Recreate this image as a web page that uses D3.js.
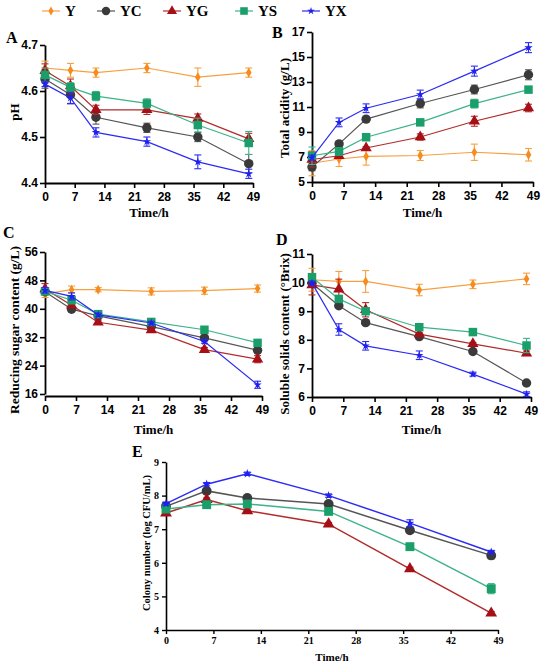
<!DOCTYPE html>
<html>
<head>
<meta charset="utf-8">
<script src="https://cdn.jsdelivr.net/npm/d3@7"></script>
<style>
  body { margin: 0; background: #fff; }
  svg { display: block; }
</style>
</head>
<body>
<div id="chart"></div>
<script>
// ---------------------------------------------------------------
// data (rows follow the series order)

let series = ["Y", "YC", "YG", "YS", "YX"];
let times = [0, 6, 12, 24, 36, 48];
let xTicks = [0, 7, 14, 21, 28, 35, 42, 49];

// A: pH
let phMean = [
  [4.650, 4.645, 4.640, 4.650, 4.630, 4.640],
  [4.626, 4.592, 4.543, 4.520, 4.500, 4.442],
  [4.644, 4.611, 4.559, 4.559, 4.540, 4.496],
  [4.635, 4.608, 4.589, 4.573, 4.526, 4.487],
  [4.615, 4.585, 4.510, 4.490, 4.446, 4.420]
];
let phErr = [
  [0.015, 0.015, 0.010, 0.010, 0.020, 0.010],
  [0.020, 0.020, 0.015, 0.010, 0.010, 0.020],
  [0.015, 0.015, 0.010, 0.010, 0.010, 0.012],
  [0.015, 0.010, 0.010, 0.010, 0.015, 0.025],
  [0.005, 0.012, 0.010, 0.010, 0.015, 0.010]
];
let phTicks = [4.4, 4.5, 4.6, 4.7];

// B: total acidity (g/L)
let acidMean = [
  [6.50, 6.84, 7.05, 7.12, 7.38, 7.18],
  [6.20, 8.05, 10.03, 11.28, 12.40, 13.58],
  [6.80, 7.10, 7.72, 8.60, 9.86, 10.92],
  [7.10, 7.45, 8.58, 9.77, 11.27, 12.39],
  [6.95, 9.77, 10.90, 12.00, 13.87, 15.75]
];
let acidErr = [
  [1.00, 0.60, 0.70, 0.40, 0.65, 0.50],
  [0.30, 0.10, 0.15, 0.35, 0.35, 0.40],
  [0.60, 0.20, 0.10, 0.25, 0.40, 0.30],
  [0.70, 0.30, 0.20, 0.15, 0.35, 0.15],
  [0.20, 0.35, 0.35, 0.35, 0.40, 0.40]
];
let acidTicks = [5, 7, 9, 11, 13, 15, 17];

// C: reducing sugar content (g/L)
let sugarMean = [
  [44.2, 45.4, 45.4, 44.9, 45.1, 45.7],
  [44.8, 39.9, 38.0, 35.0, 31.8, 28.3],
  [45.6, 41.0, 36.2, 34.0, 28.5, 25.8],
  [44.9, 42.4, 38.5, 36.3, 34.1, 30.4],
  [45.2, 43.5, 38.3, 36.0, 30.8, 18.6]
];
let sugarErr = [
  [1.0, 1.0, 0.6, 1.0, 1.0, 1.0],
  [0.6, 0.6, 0.5, 0.5, 0.5, 0.5],
  [1.5, 0.6, 0.6, 0.6, 0.6, 1.0],
  [0.6, 0.6, 0.5, 0.5, 0.5, 0.6],
  [0.8, 1.0, 0.5, 0.5, 0.5, 1.0]
];
let sugarTicks = [16, 24, 32, 40, 48, 56];

// D: soluble solids content (°Brix)
let brixMean = [
  [10.10, 10.04, 10.04, 9.74, 9.94, 10.13],
  [9.98, 9.19, 8.60, 8.11, 7.59, 6.49],
  [9.92, 9.77, 9.05, 8.20, 7.86, 7.53],
  [10.19, 9.43, 9.00, 8.44, 8.27, 7.80],
  [9.98, 8.36, 7.79, 7.46, 6.80, 6.10]
];
let brixErr = [
  [0.40, 0.35, 0.38, 0.20, 0.15, 0.20],
  [0.10, 0.05, 0.05, 0.05, 0.05, 0.05],
  [0.35, 0.35, 0.25, 0.05, 0.05, 0.08],
  [0.12, 0.08, 0.08, 0.08, 0.12, 0.25],
  [0.08, 0.20, 0.15, 0.15, 0.07, 0.08]
];
let brixTicks = [6, 7, 8, 9, 10, 11];

// E: colony number (log CFU/mL), no Y series
let colonySeries = ["YC", "YG", "YS", "YX"];
let colonyMean = [
  [7.68, 8.14, 7.93, 7.75, 6.97, 6.22],
  [7.48, 7.88, 7.55, 7.15, 5.82, 4.50],
  [7.60, 7.73, 7.75, 7.53, 6.48, 5.23],
  [7.76, 8.34, 8.65, 8.00, 7.18, 6.32]
];
let colonyErr = [
  [0.05, 0.05, 0.05, 0.05, 0.05, 0.10],
  [0.05, 0.05, 0.05, 0.05, 0.05, 0.05],
  [0.05, 0.05, 0.05, 0.05, 0.05, 0.15],
  [0.05, 0.05, 0.05, 0.05, 0.10, 0.05]
];
let colonyTicks = [4, 5, 6, 7, 8, 9];

// ---------------------------------------------------------------
// styles

let lineColor = { Y: "#f7a040", YC: "#555555", YG: "#b22a2a", YS: "#3cb389", YX: "#2b2bf5" };
let markColor = { Y: "#f78c1e", YC: "#3a3a3a", YG: "#a50f15", YS: "#1a9e6a", YX: "#1f1ff0" };
let markShape = { Y: d3.symbolDiamond, YC: d3.symbolCircle, YG: d3.symbolTriangle, YS: d3.symbolSquare, YX: d3.symbolStar };
let markSize  = { Y: 28, YC: 70, YG: 55, YS: 72, YX: 22 };

let serif = "'Liberation Serif', 'Times New Roman', serif";
let sans  = "'Liberation Sans', Arial, sans-serif";

let svg = d3.select("#chart").append("svg")
    .attr("width", 550)
    .attr("height", 668);

// ---------------------------------------------------------------
// legend

let legendX = [42, 97, 163, 235, 302];
let legend = svg.append("g");
series.forEach(function(s, i) {
  let g = legend.append("g").attr("transform", "translate(" + legendX[i] + ",11)");
  g.append("line").attr("x1", 0).attr("x2", 18)
    .attr("stroke", lineColor[s]).attr("stroke-width", 1.2);
  g.append("path").attr("transform", "translate(9,0)")
    .attr("d", d3.symbol().type(markShape[s]).size(markSize[s] * 0.8)())
    .attr("fill", markColor[s]);
  g.append("text").attr("x", 23).attr("y", 5)
    .attr("font-family", serif).attr("font-weight", "bold").attr("font-size", 15)
    .text(s);
});

// ---------------------------------------------------------------
// one panel

function drawPanel(p) {
  let x = d3.scaleLinear().domain([0, 49]).range([p.x0, p.x1]);
  let y = d3.scaleLinear().domain(p.domain).range([p.y1, p.y0]);
  let g = svg.append("g");

  // x axis
  let xa = g.append("g")
    .attr("transform", "translate(0," + p.xAxisY + ")")
    .call(d3.axisBottom(x).tickValues(xTicks).tickSize(p.tick).tickSizeOuter(0).tickPadding(p.small ? 3 : 4));
  // y axis
  let ya = g.append("g")
    .attr("transform", "translate(" + p.x0 + ",0)")
    .call(d3.axisLeft(y).tickValues(p.ticks).tickSize(p.tick).tickSizeOuter(0)
      .tickFormat(p.format || d3.format("d")).tickPadding(p.small ? 3 : 2));

  [xa, ya].forEach(function(a) {
    a.select(".domain").attr("stroke", "#000").attr("stroke-width", p.small ? 1.6 : 1.8);
    a.selectAll(".tick line").attr("stroke", "#000").attr("stroke-width", p.small ? 1.4 : 1.6);
    a.selectAll(".tick text")
      .attr("fill", "#000")
      .attr("font-family", p.small ? serif : sans)
      .attr("font-weight", "bold")
      .attr("font-size", p.small ? 10 : 12);
  });

  // titles
  g.append("text")
    .attr("x", (p.x0 + p.x1) / 2).attr("y", p.xTitleY)
    .attr("text-anchor", "middle")
    .attr("font-family", serif).attr("font-weight", "bold")
    .attr("font-size", p.small ? 11 : 13)
    .text("Time/h");
  g.append("text")
    .attr("transform", "translate(" + p.yTitleX + "," + p.yTitleMid + ") rotate(-90)")
    .attr("text-anchor", "middle")
    .attr("font-family", serif).attr("font-weight", "bold")
    .attr("font-size", p.yTitleSize)
    .text(p.yTitle);
  g.append("text")
    .attr("x", p.labelX).attr("y", p.labelY)
    .attr("font-family", serif).attr("font-weight", "bold")
    .attr("font-size", 16)
    .text(p.label);

  let line = d3.line().x(function(d) { return x(d.t); }).y(function(d) { return y(d.v); });

  p.names.forEach(function(s, i) {
    let pts = times.map(function(t, j) { return { t: t, v: p.mean[i][j], e: p.err[i][j] }; });
    let sg = g.append("g");

    // error bars
    let eb = sg.selectAll(".eb").data(pts).enter().append("g")
      .attr("stroke", lineColor[s]).attr("stroke-width", 1.1).attr("fill", "none");
    eb.append("line")
      .attr("x1", function(d) { return x(d.t); }).attr("x2", function(d) { return x(d.t); })
      .attr("y1", function(d) { return y(d.v - d.e); }).attr("y2", function(d) { return y(d.v + d.e); });
    eb.append("line")
      .attr("x1", function(d) { return x(d.t) - 3.5; }).attr("x2", function(d) { return x(d.t) + 3.5; })
      .attr("y1", function(d) { return y(d.v + d.e); }).attr("y2", function(d) { return y(d.v + d.e); });
    eb.append("line")
      .attr("x1", function(d) { return x(d.t) - 3.5; }).attr("x2", function(d) { return x(d.t) + 3.5; })
      .attr("y1", function(d) { return y(d.v - d.e); }).attr("y2", function(d) { return y(d.v - d.e); });

    sg.append("path").datum(pts)
      .attr("d", line)
      .attr("fill", "none")
      .attr("stroke", lineColor[s])
      .attr("stroke-width", p.small ? 1.5 : 1.2);

    sg.selectAll(".mk").data(pts).enter().append("path")
      .attr("transform", function(d) { return "translate(" + x(d.t) + "," + y(d.v) + ")"; })
      .attr("d", d3.symbol().type(markShape[s]).size(markSize[s] * (p.small ? 1.1 : 1))())
      .attr("fill", markColor[s]);
  });
}

// ---------------------------------------------------------------
// panels

drawPanel({
  label: "A", labelX: 6, labelY: 43,
  x0: 45, x1: 253, y0: 45, y1: 183, xAxisY: 183,
  domain: [4.4, 4.7], ticks: phTicks, format: d3.format(".1f"),
  names: series, mean: phMean, err: phErr, tick: 5,
  xTitleY: 217, yTitle: "pH", yTitleX: 19, yTitleMid: 112, yTitleSize: 13
});

drawPanel({
  label: "B", labelX: 272, labelY: 38,
  x0: 312, x1: 533, y0: 32, y1: 182, xAxisY: 182,
  domain: [5, 17], ticks: acidTicks,
  names: series, mean: acidMean, err: acidErr, tick: 5,
  xTitleY: 217, yTitle: "Total acidity (g/L)", yTitleX: 289, yTitleMid: 108, yTitleSize: 13
});

drawPanel({
  label: "C", labelX: 3, labelY: 238,
  x0: 45, x1: 262, y0: 252, y1: 394, xAxisY: 396,
  domain: [16, 56], ticks: sugarTicks,
  names: series, mean: sugarMean, err: sugarErr, tick: 5,
  xTitleY: 434, yTitle: "Reducing sugar content (g/L)", yTitleX: 19, yTitleMid: 330, yTitleSize: 13.5
});

drawPanel({
  label: "D", labelX: 276, labelY: 245,
  x0: 312, x1: 531, y0: 254, y1: 397, xAxisY: 397,
  domain: [6, 11], ticks: brixTicks,
  names: series, mean: brixMean, err: brixErr, tick: 5,
  xTitleY: 434, yTitle: "Soluble solids content (°Brix)", yTitleX: 289, yTitleMid: 334, yTitleSize: 13
});

drawPanel({
  label: "E", labelX: 132, labelY: 457,
  x0: 166, x1: 498, y0: 462, y1: 630, xAxisY: 630,
  domain: [4, 9], ticks: colonyTicks,
  names: colonySeries, mean: colonyMean, err: colonyErr, tick: 4, small: true,
  xTitleY: 661, yTitle: "Colony number (log CFU/mL)", yTitleX: 150, yTitleMid: 543, yTitleSize: 10.5
});
</script>
</body>
</html>
